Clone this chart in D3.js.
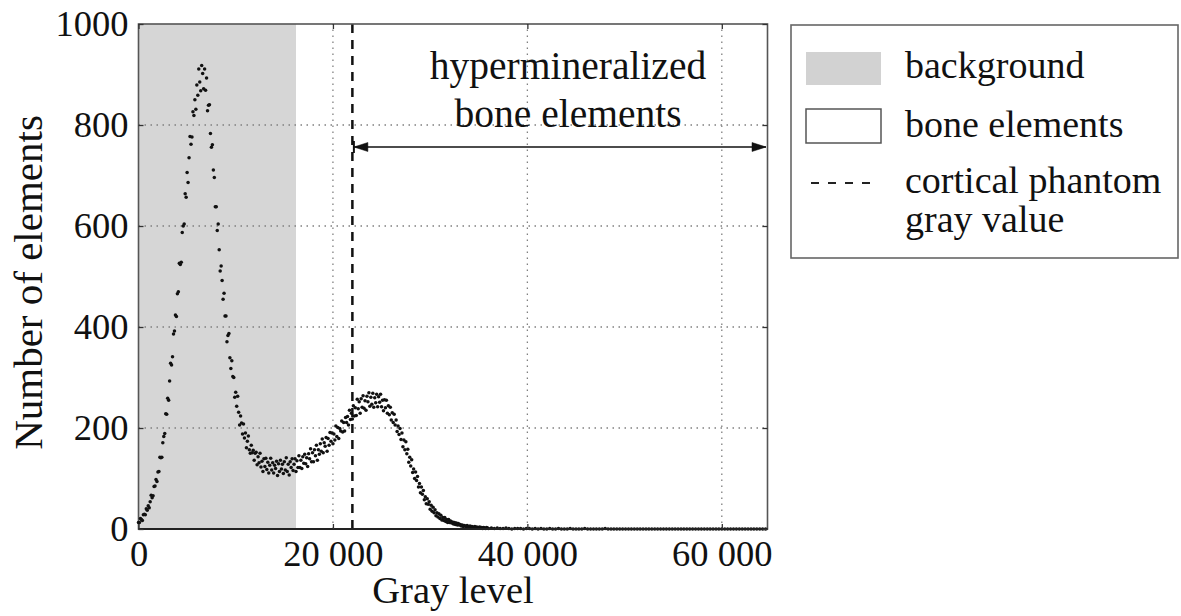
<!DOCTYPE html>
<html><head><meta charset="utf-8">
<script src="https://cdn.jsdelivr.net/npm/d3@7"></script>
<style>
body{margin:0;background:#fff}
svg{display:block}
text{font-family:"Liberation Serif","Times New Roman",serif;fill:#111}
</style>
</head><body>
<svg id="c" width="1181" height="616"></svg>
<script>
// ---- data ----
const binStart = 0;
const binWidth = 100;
const counts = [
13,13,21,19,17,28,29,28,40,37,46,42,54,67,62,66,84,85,98,94,
113,114,142,141,142,171,183,189,228,227,259,
255,293,328,325,341,386,392,424,421,466,470,526,524,528,587,600,604,664,657,
706,686,735,777,762,776,826,819,850,831,879,
859,911,885,868,918,902,872,911,869,893,828,839,840,783,756,761,711,696,638,
638,591,604,553,511,521,492,455,467,422,422,
371,383,387,339,318,333,302,300,261,271,243,263,231,206,224,210,188,208,180,
190,161,174,184,157,150,166,151,156,136,150,
152,127,143,131,150,123,134,114,139,124,140,118,132,111,126,140,117,131,111,
126,120,134,106,129,114,136,119,128,110,133,117,141,114,128,107,133,122,139,116,
128,139,114,135,122,145,122,136,120,143,130,
148,129,141,124,149,139,159,133,151,133,157,145,166,136,157,148,169,154,178,
151,171,164,181,154,179,166,191,174,190,169,188,176,204,183,201,179,199,194,214,
192,211,194,221,211,223,206,235,217,229,218,
244,224,240,225,257,238,252,229,258,241,264,239,254,235,263,252,270,243,261,
247,269,241,260,250,267,242,262,251,267,242,255,234,256,240,255,229,244,226,241,
216,230,211,227,206,216,193,204,187,199,177,
190,163,176,157,173,149,158,132,142,125,137,112,119,100,113,96,104,83,90,
72,83,69,76,58,64,50,60,49,54,39,47,35,43,32,38,26,32,24,30,
21,27,18,23,17,23,15,19,13,19,13,
16,12,14,10,13,9,12,8,11,8,9,6,8,5,7,6,4,7,5,4,
6,3,5,4,2,5,3,4,2,3,4,2,3,1,3,2,1,3,2,1
];
const tailStart = 36300;
const tailWidth = 300;
const tailCounts = [
2,1,2,1,1,2,1,0,1,1,1,0,1,1,0,1,0,1,0,0,
1,0,0,1,0,0,0,1,0,0,0,0,1,0,0,0,0,0,0,1,
0,0,0,0,0,0,0,0,0,0,0,0,0,0,0,0,0,0,0,0,
0,0,0,0,0,0,0,0,0,0,0,0,0,0,0,0,0,0,0,0,
0,0,0,0,0,0,0,0,0,0,0,0,0,0,0
];
const xMax = 64700;
const yMax = 1000;
const backgroundLimit = 16200;
const phantomGray = 22000;
const xTicks = [0, 20000, 40000, 60000];
const xTickLabels = ["0", "20 000", "40 000", "60 000"];
const yTicks = [0, 200, 400, 600, 800, 1000];
const yTickLabels = ["0", "200", "400", "600", "800", "1000"];
const xTitle = "Gray level";
const yTitle = "Number of elements";
const annotationLines = ["hypermineralized", "bone elements"];
const legendLabels = ["background", "bone elements", "cortical phantom", "gray value"];

// ---- layout ----
const svg = d3.select("#c");
const m = {left: 138.5, right: 767.5, top: 24, bottom: 529};
const x = d3.scaleLinear().domain([0, xMax]).range([m.left, m.right]);
const y = d3.scaleLinear().domain([0, yMax]).range([m.bottom, m.top]);

const points = counts.map((c, i) => ({g: binStart + i * binWidth, c}))
  .concat(tailCounts.map((c, i) => ({g: tailStart + i * tailWidth, c})));

// background region
svg.append("rect")
  .attr("x", x(0)).attr("y", y(yMax))
  .attr("width", x(backgroundLimit) - x(0)).attr("height", y(0) - y(yMax))
  .attr("fill", "#d6d6d6");

// grid
const grid = svg.append("g").attr("stroke", "#808080").attr("stroke-width", 1.3)
  .attr("stroke-dasharray", "1.5,4.5");
grid.selectAll(".gx").data(xTicks.filter(t => t > 0)).join("line")
  .attr("x1", d => x(d)).attr("x2", d => x(d)).attr("y1", y(0)).attr("y2", y(yMax));
grid.selectAll(".gy").data(yTicks.filter(t => t > 0 && t < yMax)).join("line")
  .attr("y1", d => y(d)).attr("y2", d => y(d)).attr("x1", x(0)).attr("x2", x(xMax));

// phantom dashed line
svg.append("line")
  .attr("x1", x(phantomGray)).attr("x2", x(phantomGray))
  .attr("y1", y(yMax)).attr("y2", y(0))
  .attr("stroke", "#111").attr("stroke-width", 2.5).attr("stroke-dasharray", "9,7");

// frame
svg.append("rect")
  .attr("x", x(0)).attr("y", y(yMax))
  .attr("width", x(xMax) - x(0)).attr("height", y(0) - y(yMax))
  .attr("fill", "none").attr("stroke", "#555").attr("stroke-width", 1.6);

// points
svg.append("g").selectAll("circle").data(points).join("circle")
  .attr("cx", d => x(d.g)).attr("cy", d => y(d.c)).attr("r", 1.75)
  .attr("fill", "#111");

svg.append("line").attr("x1", x(0)).attr("x2", x(xMax)).attr("y1", y(0)).attr("y2", y(0))
  .attr("stroke", "#222").attr("stroke-width", 2);

// axes
const fs = 36.5;
const ax = svg.append("g").attr("transform", `translate(0,${y(0)})`)
  .call(d3.axisBottom(x).tickValues(xTicks).tickFormat((d, i) => xTickLabels[i])
    .tickSizeInner(-5).tickSizeOuter(0).tickPadding(11));
const ay = svg.append("g").attr("transform", `translate(${x(0)},0)`)
  .call(d3.axisLeft(y).tickValues(yTicks).tickFormat((d, i) => yTickLabels[i])
    .tickSizeInner(-5).tickSizeOuter(0).tickPadding(10));
const ar = svg.append("g").attr("transform", `translate(${x(xMax)},0)`)
  .call(d3.axisRight(y).tickValues(yTicks).tickFormat("").tickSizeInner(-5).tickSizeOuter(0));
const at = svg.append("g").attr("transform", `translate(0,${y(yMax)})`)
  .call(d3.axisTop(x).tickValues(xTicks).tickFormat("").tickSizeInner(-5).tickSizeOuter(0));
[ax, ay, ar, at].forEach(g => {
  g.select(".domain").remove();
  g.selectAll(".tick line").attr("stroke", "#333").attr("stroke-width", 1.3);
  g.selectAll("text").attr("font-size", fs).attr("fill", "#111")
    .attr("font-family", '"Liberation Serif","Times New Roman",serif');
});

// axis titles
svg.append("text").attr("x", (m.left + m.right) / 2).attr("y", 603)
  .attr("text-anchor", "middle").attr("font-size", 38.5).text(xTitle);
svg.append("text").attr("transform", `translate(42,${(m.top + m.bottom) / 2 + 6}) rotate(-90)`)
  .attr("text-anchor", "middle").attr("font-size", 41).text(yTitle);

// annotation
const annX = 568;
svg.append("text").attr("x", annX).attr("y", 79).attr("text-anchor", "middle")
  .attr("font-size", 39.5).text(annotationLines[0]);
svg.append("text").attr("x", annX).attr("y", 127).attr("text-anchor", "middle")
  .attr("font-size", 39.5).text(annotationLines[1]);
const ay0 = 147;
const xa = x(phantomGray) + 1.5, xb = x(xMax) - 1.5;
const arrow = svg.append("g").attr("stroke", "#111").attr("fill", "#111");
arrow.append("line").attr("x1", xa).attr("x2", xb).attr("y1", ay0).attr("y2", ay0).attr("stroke-width", 1.6);
arrow.append("path").attr("d", `M${xa},${ay0}l14,-4.5l0,9z`).attr("stroke-width", 0.5);
arrow.append("path").attr("d", `M${xb},${ay0}l-14,-4.5l0,9z`).attr("stroke-width", 0.5);
arrow.append("line").attr("x1", xa).attr("x2", xa).attr("y1", ay0 - 6).attr("y2", ay0 + 6).attr("stroke-width", 2);

// legend
const lg = svg.append("g");
lg.append("rect").attr("x", 791).attr("y", 25).attr("width", 387).attr("height", 233)
  .attr("fill", "#fff").attr("stroke", "#666").attr("stroke-width", 1.6);
lg.append("rect").attr("x", 806).attr("y", 52).attr("width", 75).attr("height", 33).attr("fill", "#d2d2d2");
lg.append("rect").attr("x", 806).attr("y", 109).attr("width", 75).attr("height", 34)
  .attr("fill", "#fff").attr("stroke", "#555").attr("stroke-width", 1.5);
lg.append("line").attr("x1", 811).attr("x2", 879).attr("y1", 183).attr("y2", 183)
  .attr("stroke", "#222").attr("stroke-width", 2).attr("stroke-dasharray", "8,9");
const legY = [78, 137, 193, 232];
legendLabels.forEach((t, i) => {
  lg.append("text").attr("x", 905).attr("y", legY[i]).attr("font-size", 38).text(t);
});
</script>
</body></html>
